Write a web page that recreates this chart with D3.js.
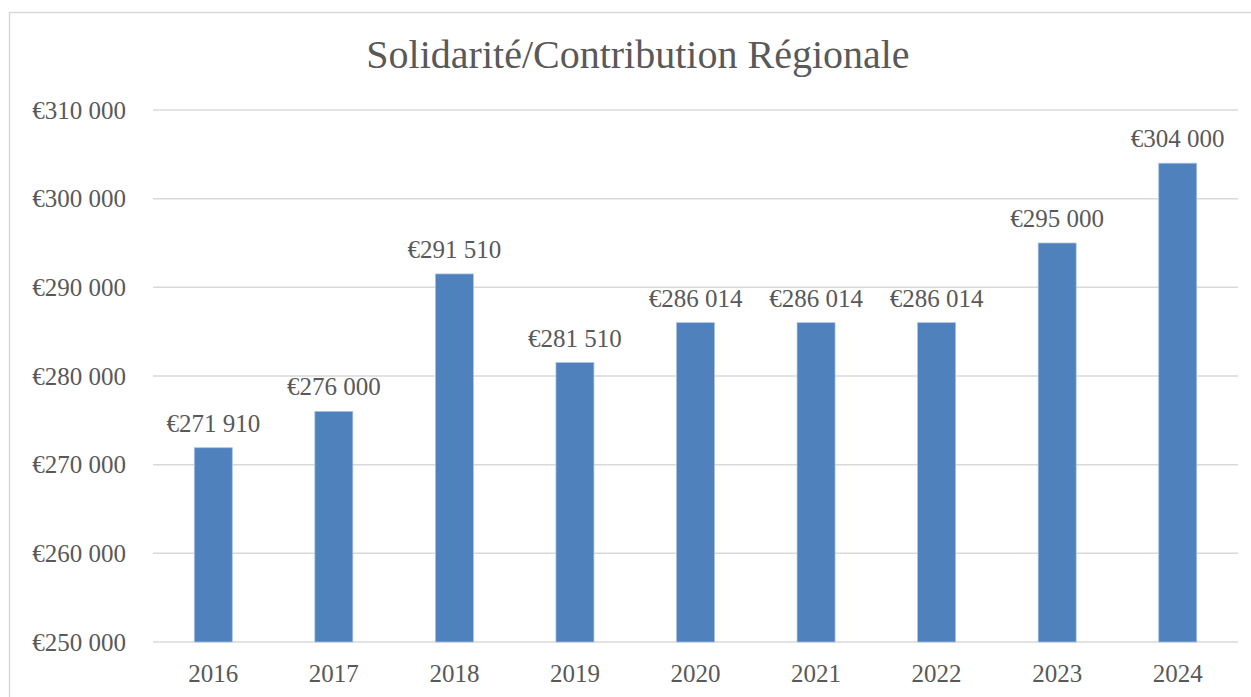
<!DOCTYPE html>
<html>
<head>
<meta charset="utf-8">
<script src="https://cdn.jsdelivr.net/npm/d3@7"></script>
<style>
  body { margin: 0; background: #fff; }
  text { font-family: "Liberation Serif", "DejaVu Serif", serif; fill: #595959; }
</style>
</head>
<body>
<div id="chart"></div>
<script>
// DATA
// ------------------------------------------------------------------
var years = ["2016", "2017", "2018", "2019", "2020", "2021", "2022", "2023", "2024"];
var amounts = [271910, 276000, 291510, 281510, 286014, 286014, 286014, 295000, 304000];
var yTicks = [250000, 260000, 270000, 280000, 290000, 300000, 310000];
var title = "Solidarité/Contribution Régionale";

// CANVAS
// ------------------------------------------------------------------
var width = 1251,
    height = 697;

var svg = d3.select("#chart")
    .append("svg")
    .attr("width", width)
    .attr("height", height);

// chart frame
svg.append("rect")
    .attr("x", 9.5)
    .attr("y", 12.5)
    .attr("width", width + 20)
    .attr("height", height + 20)
    .attr("fill", "none")
    .attr("stroke", "#d9d9d9")
    .attr("stroke-width", 1.5);

var fr = d3.formatLocale({
  decimal: ",",
  thousands: "\u00a0",
  grouping: [3],
  currency: ["€", ""]
});
var money = fr.format("$,.0f");

var labelSize = 25;

// SCALES
// ------------------------------------------------------------------
var plotLeft = 153, plotRight = 1238, plotTop = 110, plotBottom = 642;

var xScale = d3.scaleBand()
    .domain(years)
    .range([plotLeft, plotRight])
    .paddingInner(0.685)
    .paddingOuter(0.3425);

var yScale = d3.scaleLinear()
    .domain([250000, 310000])
    .range([plotBottom, plotTop]);

// GRID
// ------------------------------------------------------------------
svg.append("g")
  .selectAll("line")
  .data(yTicks)
  .join("line")
    .attr("x1", plotLeft)
    .attr("x2", plotRight)
    .attr("y1", function(d) { return yScale(d); })
    .attr("y2", function(d) { return yScale(d); })
    .attr("stroke", "#d9d9d9")
    .attr("stroke-width", 1.5);

// Y axis labels
var yAxis = d3.axisLeft(yScale)
    .tickValues(yTicks)
    .tickFormat(money)
    .tickSize(0)
    .tickPadding(0);

svg.append("g")
    .attr("transform", "translate(126,0)")
    .call(yAxis)
    .call(function(g) { g.select(".domain").remove(); })
    .selectAll("text")
    .attr("font-size", labelSize)
    .attr("font-family", null)
    .attr("fill", null);

// X axis labels
var xAxis = d3.axisBottom(xScale)
    .tickSize(0)
    .tickPadding(0);

svg.append("g")
    .attr("transform", "translate(0,664)")
    .call(xAxis)
    .call(function(g) { g.select(".domain").remove(); })
    .selectAll("text")
    .attr("font-size", labelSize)
    .attr("font-family", null)
    .attr("fill", null);

// BARS
// ------------------------------------------------------------------
var rows = years.map(function(y, i) { return { year: y, value: amounts[i] }; });

svg.append("g")
  .selectAll("rect")
  .data(rows)
  .join("rect")
    .attr("x", function(d) { return xScale(d.year); })
    .attr("y", function(d) { return yScale(d.value); })
    .attr("width", xScale.bandwidth())
    .attr("height", function(d) { return plotBottom - yScale(d.value); })
    .attr("fill", "#4f81bd")
    .attr("stroke", "#a9c1e0")
    .attr("stroke-width", 0.75);

// data labels
svg.append("g")
  .selectAll("text")
  .data(rows)
  .join("text")
    .attr("x", function(d) { return xScale(d.year) + xScale.bandwidth() / 2; })
    .attr("y", function(d) { return yScale(d.value) - 16; })
    .attr("text-anchor", "middle")
    .attr("font-size", labelSize)
    .text(function(d) { return money(d.value); });

// TITLE
// ------------------------------------------------------------------
svg.append("text")
    .attr("x", 638)
    .attr("y", 68)
    .attr("text-anchor", "middle")
    .attr("font-size", 40)
    .text(title);
</script>
</body>
</html>
